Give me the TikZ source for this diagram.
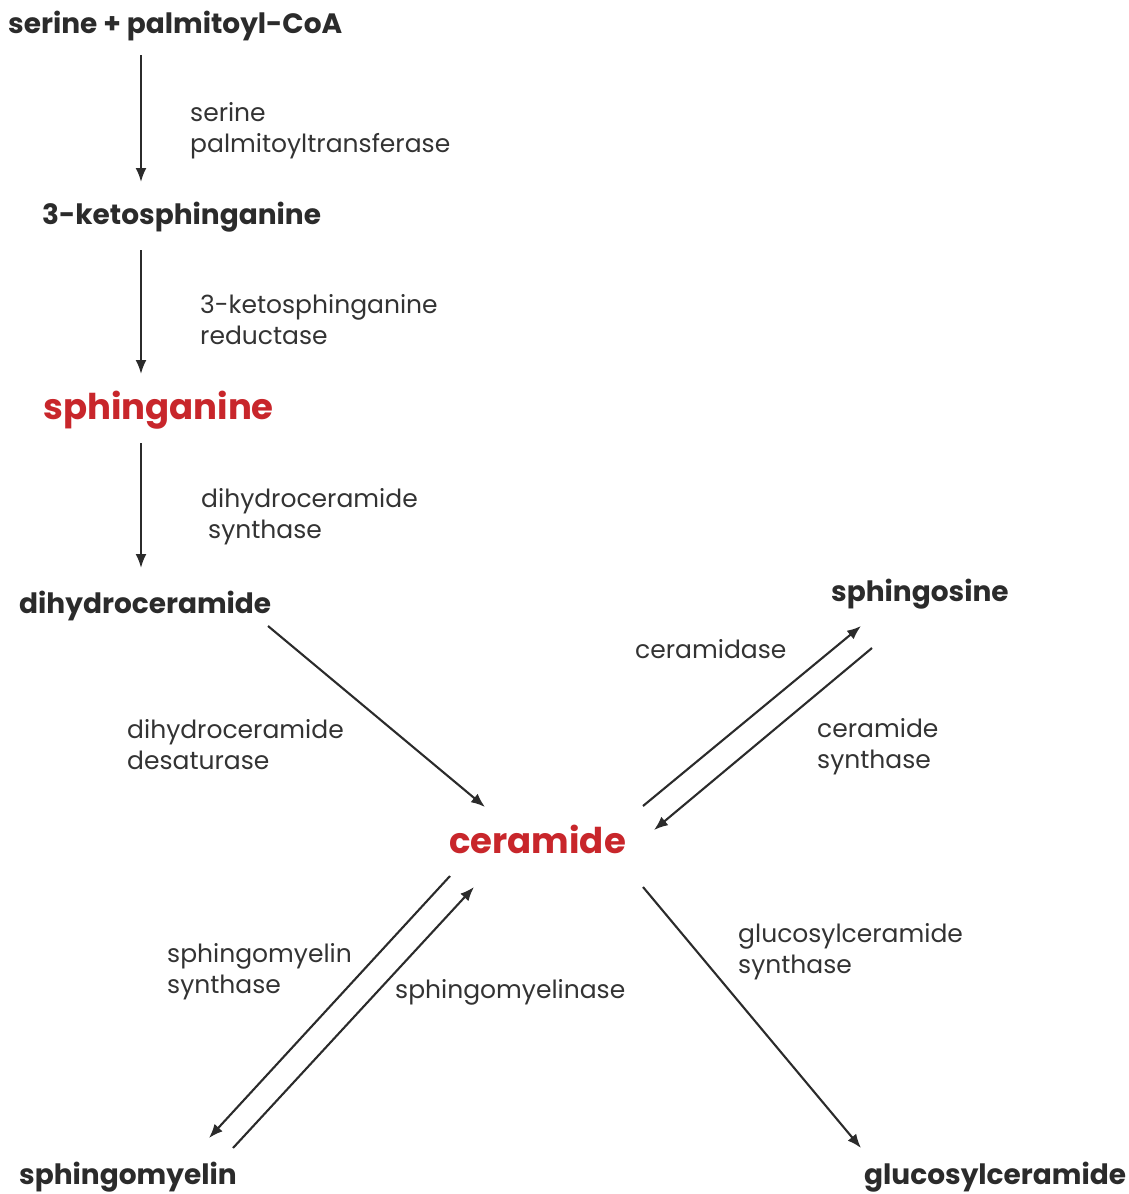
\documentclass[tikz,border=0pt]{standalone}
\usepackage{fontspec}
\setmainfont{Poppins}
\usetikzlibrary{arrows.meta}
\definecolor{txt}{HTML}{2B2B2B}
\definecolor{redc}{HTML}{C8262B}
\definecolor{lab}{HTML}{333333}
\tikzset{
  x=1pt,y=-1pt,
  mol/.style={anchor=base west,inner sep=0pt,text=txt,font=\fontsize{28}{32}\selectfont\bfseries},
  keymol/.style={anchor=base west,inner sep=0pt,text=redc,font=\fontsize{35.5}{40}\selectfont\bfseries},
  enz/.style={anchor=base west,inner sep=0pt,text=lab,align=left,font=\fontsize{25}{31.5}\selectfont},
  arr/.style={draw=txt,line width=2.1pt,-{Latex[length=14pt,width=11pt]}}
}
\begin{document}
\begin{tikzpicture}
\useasboundingbox (0,0) rectangle (1128,1194);
% molecules
\node[mol] (spc) at (8,33) {serine + palmitoyl-CoA};
\node[mol] (kts) at (42,224) {3-ketosphinganine};
\node[keymol] (sph) at (43,419) {sphinganine};
\node[mol] (dhc) at (19,613) {dihydroceramide};
\node[keymol] (cer) at (449,853) {ceramide};
\node[mol] (sgo) at (831,601) {sphingosine};
\node[mol] (smy) at (19,1184) {sphingomyelin};
\node[mol] (glc) at (864,1184) {glucosylceramide};
% enzymes (anchor = baseline of the last line)
\node[enz] (e1) at (190,152.5) {serine\\palmitoyltransferase};
\node[enz] (e2) at (200,344.5) {3-ketosphinganine\\reductase};
\node[enz] (e3) at (201,538.5) {dihydroceramide\\\hspace*{7pt}synthase};
\node[enz] (e4) at (127,769.5) {dihydroceramide\\desaturase};
\node[enz] (e5) at (635,658) {ceramidase};
\node[enz] (e6) at (817,768.5) {ceramide\\synthase};
\node[enz] (e7) at (738,973.5) {glucosylceramide\\synthase};
\node[enz] (e8) at (167,993.5) {sphingomyelin\\synthase};
\node[enz] (e9) at (395,998) {sphingomyelinase};
% arrow end points
\coordinate (a1s) at (141,55);  \coordinate (a1e) at (141,182);
\coordinate (a2s) at (141,250); \coordinate (a2e) at (141,374);
\coordinate (a3s) at (141,443); \coordinate (a3e) at (141,568);
\coordinate (a4s) at (268,626); \coordinate (a4e) at (485,807);
\coordinate (a5s) at (643,806); \coordinate (a5e) at (861,626);
\coordinate (a6s) at (872,648); \coordinate (a6e) at (654,830);
\coordinate (a7s) at (643,887); \coordinate (a7e) at (861,1148);
\coordinate (a8s) at (450,876); \coordinate (a8e) at (209,1138);
\coordinate (a9s) at (233,1148); \coordinate (a9e) at (474,887);
\draw[arr] (a1s) -- (a1e);
\draw[arr] (a2s) -- (a2e);
\draw[arr] (a3s) -- (a3e);
\draw[arr] (a4s) -- (a4e);
\draw[arr] (a5s) -- (a5e);
\draw[arr] (a6s) -- (a6e);
\draw[arr] (a7s) -- (a7e);
\draw[arr] (a8s) -- (a8e);
\draw[arr] (a9s) -- (a9e);
\end{tikzpicture}
\end{document}
